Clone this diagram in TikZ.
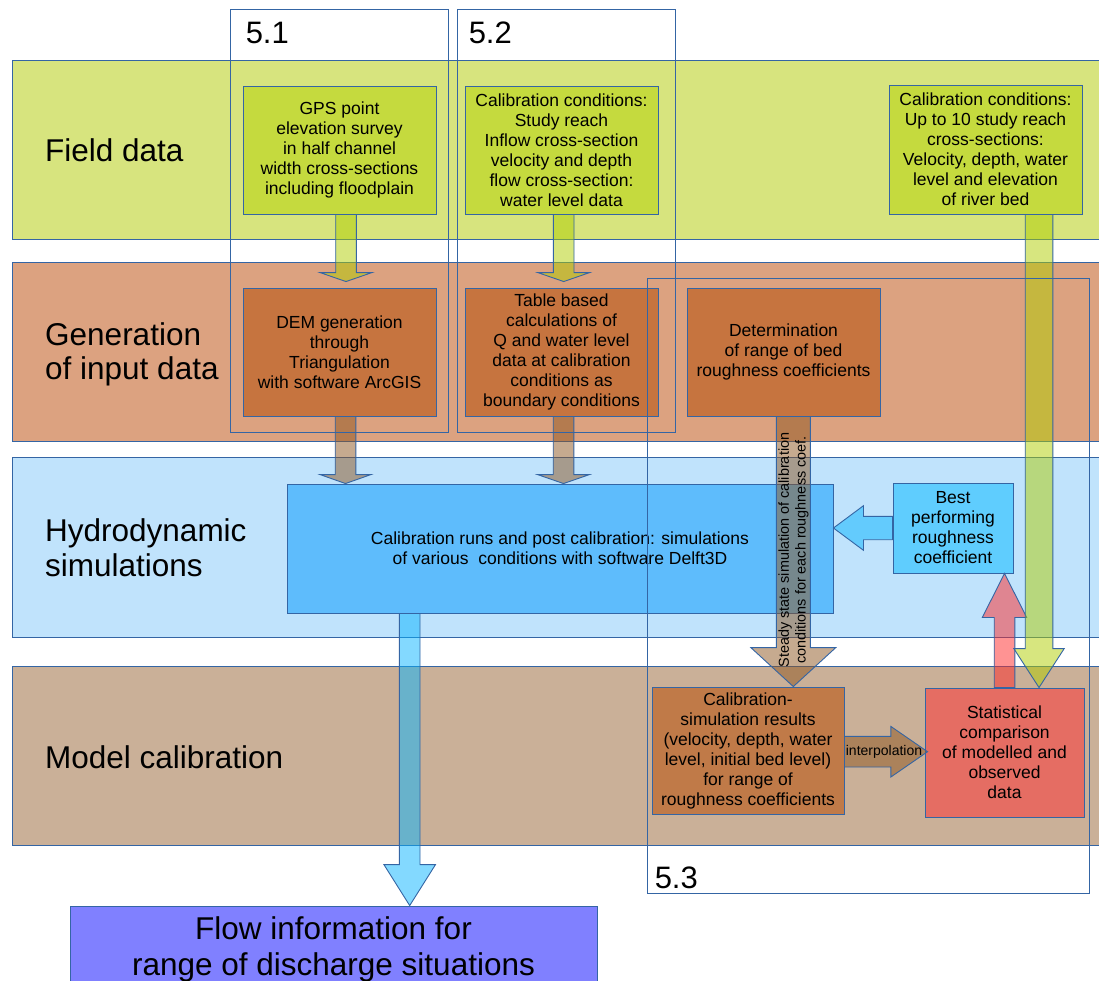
\documentclass[tikz,border=0pt]{standalone}
\usepackage{fontspec}
\setmainfont{Liberation Sans}
\usetikzlibrary{calc}
\definecolor{linecolor}{RGB}{52, 101, 164}
\definecolor{fieldband}{RGB}{215, 228, 126}
\definecolor{fieldbox}{RGB}{197, 218, 62}
\definecolor{genband}{RGB}{220, 162, 128}
\definecolor{genbox}{RGB}{198, 116, 63}
\definecolor{hydroband}{RGB}{192, 227, 252}
\definecolor{simbox}{RGB}{94, 188, 252}
\definecolor{bestbox}{RGB}{95, 205, 254}
\definecolor{calband}{RGB}{202, 176, 152}
\definecolor{calsimbox}{RGB}{192, 122, 72}
\definecolor{statbox}{RGB}{229, 109, 99}
\definecolor{flowbox}{RGB}{128, 128, 255}
\definecolor{arrowgreen}{RGB}{175, 205, 0}
\definecolor{arrowbrown}{RGB}{142, 85, 31}
\definecolor{arrowred}{RGB}{255, 40, 40}
\definecolor{arrowblue}{RGB}{8, 180, 255}
\tikzset{
    % Base styles
    basebox/.style={
        draw=linecolor, line width=0.9pt, align=center, inner sep=2pt,
        font=\fontsize{17.5}{20}\selectfont,
        minimum width=193pt, minimum height=128pt
    },
    % Box types
    fieldnode/.style={basebox, fill=fieldbox},
    gennode/.style={basebox, fill=genbox},
    simnode/.style={basebox, fill=simbox},
    bestnode/.style={basebox, fill=bestbox},
    calsimnode/.style={basebox, fill=calsimbox},
    statnode/.style={basebox, fill=statbox},
    flownode/.style={basebox, fill=flowbox, font=\fontsize{31.5}{35.5}\selectfont},
    % Background bands
    band/.style={draw=linecolor, line width=0.9pt, inner sep=0pt,
        minimum width=1093pt, minimum height=179pt},
    bandlabel/.style={anchor=north west, inner sep=0pt, align=left,
        font=\fontsize{31.5}{34.5}\selectfont},
    % Section frames
    groupframe/.style={draw=linecolor, line width=0.9pt, inner sep=0pt},
    grouplabel/.style={anchor=base west, inner sep=0pt,
        font=\fontsize{31}{34}\selectfont},
    % Block arrows
    blockbase/.style={draw=linecolor, line width=0.9pt, fill opacity=0.5},
    greenarrow/.style={blockbase, fill=arrowgreen},
    brownarrow/.style={blockbase, fill=arrowbrown},
    redarrow/.style={blockbase, fill=arrowred},
    bluearrow/.style={blockbase, fill=arrowblue},
    % Labels on arrows
    arrowlabel/.style={inner sep=0pt, align=center, font=\fontsize{14.4}{16.7}\selectfont},
}

% block arrow: style, from, to, shaft half width, head half width, head length
\newcommand\blockarrow[6]{%
    \coordinate (ba-h) at ($(#3)!#6!(#2)$);
    \path[#1] ($(#2)!#4!90:(#3)$) -- ($(ba-h)!#4!90:(#3)$)
        -- ($(ba-h)!#5!90:(#3)$) -- (#3) -- ($(ba-h)!#5!-90:(#3)$)
        -- ($(ba-h)!#4!-90:(#3)$) -- ($(#2)!#4!-90:(#3)$) -- cycle;
}

\begin{document}
\begin{tikzpicture}[x=1pt, y=-1pt]

\useasboundingbox (0,0) rectangle (1099,980);
\clip (0,0) rectangle (1099,980);

% Bands
\node (fieldband) [band, fill=fieldband] at (558.5,149.5) {};
\node (genband) [band, fill=genband] at (558.5,351.5) {};
\node (hydroband) [band, fill=hydroband, minimum height=180pt] at (558.5,547) {};
\node (calband) [band, fill=calband] at (558.5,755.5) {};

\node (fieldlabel) [bandlabel] at (45,138) {Field data};
\node (genlabel) [bandlabel] at (45,322) {Generation\\of input data};
\node (hydrolabel) [bandlabel] at (45,518.5) {Hydrodynamic\\simulations};
\node (callabel) [bandlabel] at (45,745) {Model calibration};

% Field data
\node (gps) [fieldnode] at (339.5,150) {
    GPS point\\elevation survey\\in half channel\\width cross-sections\\including floodplain
};
\node (cond) [fieldnode] at (561.5,150) {
    Calibration conditions:\\Study reach\\Inflow cross-section\\velocity and depth\\flow cross-section:\\water level data
};
\node (condreach) [fieldnode, minimum height=129pt] at (985.5,149.5) {
    Calibration conditions:\\Up to 10 study reach\\cross-sections:\\Velocity, depth, water\\level and elevation\\of river bed
};

% Generation of input data
\node (dem) [gennode] at (339.5,352) {
    DEM generation\\through\\Triangulation\\with software ArcGIS
};
\node (table) [gennode] at (561.5,352) {
    Table based\\calculations of\\Q and water level\\data at calibration\\conditions as\\boundary conditions
};
\node (range) [gennode] at (783.5,352) {
    Determination\\of range of bed\\roughness coefficients
};

% Hydrodynamic simulations
\node (runs) [simnode, minimum width=546pt, minimum height=129pt] at (560,548.5) {
    Calibration runs and post calibration: simulations\\of various\ \ conditions with software Delft3D
};
\node (best) [bestnode, minimum width=120pt, minimum height=90pt] at (953,528) {
    Best\\performing\\roughness\\coefficient
};

% Model calibration
\node (results) [calsimnode, minimum width=192pt, minimum height=127pt] at (748,750.5) {
    Calibration-\\simulation results\\(velocity, depth, water\\level, initial bed level)\\for range of\\roughness coefficients
};
\node (compare) [statnode, minimum width=159pt, minimum height=129pt] at (1004.5,752.5) {
    Statistical\\comparison\\of modelled and\\observed\\data
};

% Output
\node (flow) [flownode, minimum width=527pt, minimum height=87pt] at (333.5,949.5) {
    Flow information for\\range of discharge situations
};

% Arrows
\coordinate (a1) at ($(gps.south)+(6.5,0)$);
\coordinate (b1) at ($(dem.north)+(6.5,-6)$);
\blockarrow{greenarrow}{a1}{b1}{10.3pt}{26pt}{9pt}

\coordinate (a2) at ($(cond.south)+(2.2,0)$);
\coordinate (b2) at ($(table.north)+(2.2,-6)$);
\blockarrow{greenarrow}{a2}{b2}{10.3pt}{26pt}{9pt}

\coordinate (a3) at ($(dem.south)+(6,0)$);
\coordinate (b3) at (a3 |- runs.north);
\blockarrow{brownarrow}{a3}{b3}{10.3pt}{25.5pt}{9pt}

\coordinate (a4) at ($(table.south)+(2,0)$);
\coordinate (b4) at (a4 |- runs.north);
\blockarrow{brownarrow}{a4}{b4}{10.3pt}{26pt}{9pt}

\coordinate (a5) at ($(range.south)+(9.8,0)$);
\coordinate (b5) at (a5 |- results.north);
\blockarrow{brownarrow}{a5}{b5}{17pt}{42.5pt}{39pt}
\node (steady) [arrowlabel, rotate=90] at (793.5,550) {
    Steady state simulation of calibration\\conditions for each roughness coef.
};

\coordinate (a6) at (best.west);
\coordinate (b6) at (runs.east |- best.west);
\blockarrow{bluearrow}{a6}{b6}{11.7pt}{22.3pt}{30pt}

\coordinate (a7) at (compare.north);
\coordinate (b7) at (a7 |- best.south);
\blockarrow{redarrow}{a7}{b7}{10.3pt}{22.2pt}{44pt}

\coordinate (a8) at ($(condreach.south)+(53.5,0)$);
\coordinate (b8) at (a8 |- compare.north);
\blockarrow{greenarrow}{a8}{b8}{13.8pt}{25.2pt}{39pt}

\coordinate (a9) at ($(runs.south)+(-150.3,0)$);
\coordinate (b9) at (a9 |- flow.north);
\blockarrow{bluearrow}{a9}{b9}{10.3pt}{25.8pt}{41pt}

\coordinate (a10) at ($(results.east)+(0,1.2)$);
\coordinate (b10) at ($(a10 -| compare.west)+(3,0)$);
\blockarrow{brownarrow}{a10}{b10}{15.3pt}{25.3pt}{36.7pt}
\node (interp) [arrowlabel, font=\fontsize{14}{16}\selectfont] at (884,751.5) {interpolation};

% Section frames
\node (sec51) [groupframe, minimum width=218pt, minimum height=423pt] at (339,220.5) {};
\node (sec52) [groupframe, minimum width=218pt, minimum height=423pt] at (566,220.5) {};
\node (sec53) [groupframe, minimum width=442pt, minimum height=615pt] at (868,585.5) {};
\node [grouplabel] at ($(sec51.north west)+(16,35)$) {5.1};
\node [grouplabel] at ($(sec52.north west)+(12,35)$) {5.2};
\node [grouplabel] at ($(sec53.south west)+(8,-5)$) {5.3};

\end{tikzpicture}
\end{document}
